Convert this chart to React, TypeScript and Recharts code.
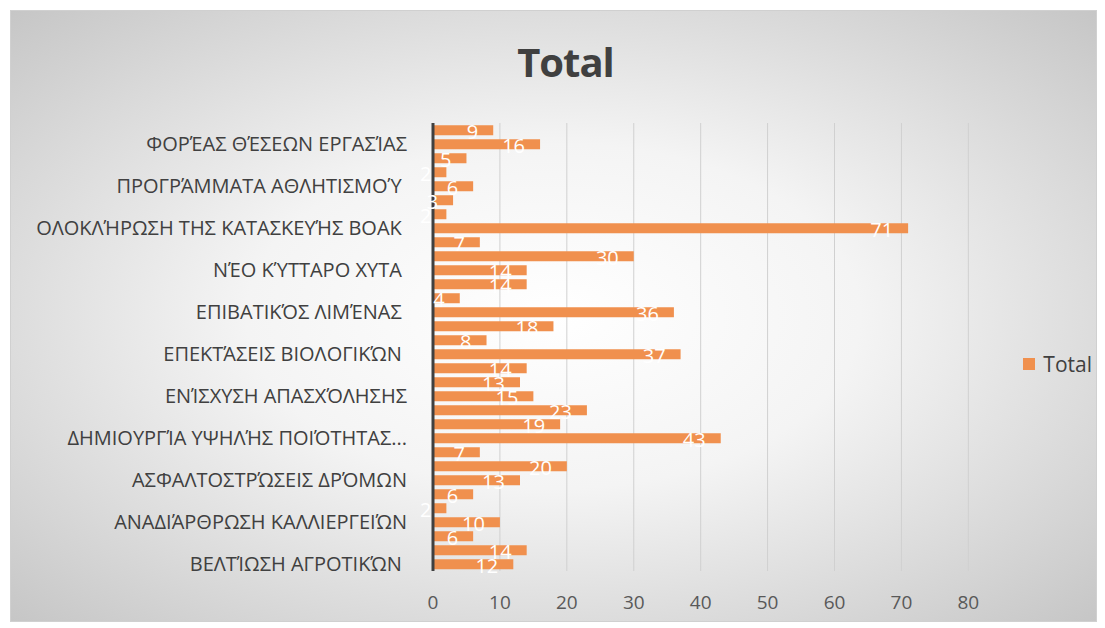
import React from "react";
import { BarChart, Bar, XAxis, YAxis, CartesianGrid, Legend, LabelList } from "recharts";

// bottom -> top
const categories = [
  "ΒΕΛΤΊΩΣΗ ΑΓΡΟΤΙΚΏΝ\u00A0",
  "κατηγορία 2",
  "κατηγορία 3",
  "ΑΝΑΔΙΆΡΘΡΩΣΗ ΚΑΛΛΙΕΡΓΕΙΏΝ",
  "κατηγορία 5",
  "κατηγορία 6",
  "ΑΣΦΑΛΤΟΣΤΡΏΣΕΙΣ ΔΡΌΜΩΝ",
  "κατηγορία 8",
  "κατηγορία 9",
  "ΔΗΜΙΟΥΡΓΊΑ ΥΨΗΛΉΣ ΠΟΙΌΤΗΤΑΣ...",
  "κατηγορία 11",
  "κατηγορία 12",
  "ΕΝΊΣΧΥΣΗ ΑΠΑΣΧΌΛΗΣΗΣ",
  "κατηγορία 14",
  "κατηγορία 15",
  "ΕΠΕΚΤΆΣΕΙΣ ΒΙΟΛΟΓΙΚΏΝ\u00A0",
  "κατηγορία 17",
  "κατηγορία 18",
  "ΕΠΙΒΑΤΙΚΌΣ ΛΙΜΈΝΑΣ\u00A0",
  "κατηγορία 20",
  "κατηγορία 21",
  "ΝΈΟ ΚΎΤΤΑΡΟ ΧΥΤΑ\u00A0",
  "κατηγορία 23",
  "κατηγορία 24",
  "ΟΛΟΚΛΉΡΩΣΗ ΤΗΣ ΚΑΤΑΣΚΕΥΉΣ ΒΟΑΚ\u00A0",
  "κατηγορία 26",
  "κατηγορία 27",
  "ΠΡΟΓΡΆΜΜΑΤΑ ΑΘΛΗΤΙΣΜΟΎ\u00A0",
  "κατηγορία 29",
  "κατηγορία 30",
  "ΦΟΡΈΑΣ ΘΈΣΕΩΝ ΕΡΓΑΣΊΑΣ",
  "κατηγορία 32",
];

const totals = [12, 14, 6, 10, 2, 6, 13, 20, 7, 43, 19, 23, 15, 13, 14, 37, 8, 18, 36, 4, 14, 14, 30, 7, 71, 2, 3, 6, 2, 5, 16, 9];

const xTicks = [0, 10, 20, 30, 40, 50, 60, 70, 80];

const data = categories.map((name, i) => ({ name, Total: totals[i] }));

const FONT = "'Open Sans', sans-serif";

const LegendContent = () => (
  <div style={{ display: "flex", alignItems: "center", fontFamily: FONT, fontSize: 21, color: "#404040" }}>
    <span style={{ display: "inline-block", width: 12, height: 12, background: "#F0904E", marginRight: 8 }} />
    Total
  </div>
);

const BarValueLabel = (props: any) => {
  const { x, y, width, height, value } = props;
  return (
    <text
      x={x + width - 15}
      y={y + height / 2 + 1}
      textAnchor="end"
      dominantBaseline="central"
      fill="#ffffff"
      fontSize={20}
      fontFamily={FONT}
    >
      {String(value)}
    </text>
  );
};

export default function App() {
  return (
    <div
      style={{
        position: "absolute",
        left: 10,
        top: 10,
        width: 1087,
        height: 612,
        background: "radial-gradient(ellipse at 50% 50%, #ffffff 0%, #f4f4f4 40%, #c6c6c6 100%)",
        border: "1px solid #d0d0d0",
        boxSizing: "border-box",
      }}
    >
      <div
        style={{
          position: "absolute",
          left: 12,
          width: "100%",
          top: 23,
          textAlign: "center",
          fontFamily: FONT,
          fontWeight: 700,
          fontSize: 40,
          color: "#404040",
          letterSpacing: -1,
        }}
      >
        Total
      </div>
      <BarChart
        width={1087}
        height={612}
        data={data}
        layout="vertical"
        barCategoryGap="16%"
        margin={{ top: 112, right: 61, bottom: 10, left: 0 }}
      >
        <CartesianGrid horizontal={false} stroke="#d0d0d0" />
        <XAxis
          type="number"
          domain={[0, 80]}
          ticks={xTicks}
          axisLine={false}
          tickLine={false}
          tick={{ fill: "#595959", fontSize: 19, fontFamily: FONT }}
          tickMargin={19}
          height={42}
        />
        <YAxis
          type="category"
          dataKey="name"
          reversed
          interval={2}
          width={422}
          tickLine={false}
          axisLine={{ stroke: "#404040", strokeWidth: 3 }}
          tick={{ fill: "#404040", fontSize: 20, fontFamily: FONT }}
          tickMargin={20}
        />
        <Legend
          layout="vertical"
          align="right"
          verticalAlign="middle"
          content={<LegendContent />}
          wrapperStyle={{ right: 6, top: 339 }}
        />
        <Bar dataKey="Total" fill="#F0904E" isAnimationActive={false}>
          <LabelList dataKey="Total" content={<BarValueLabel />} />
        </Bar>
      </BarChart>
    </div>
  );
}
